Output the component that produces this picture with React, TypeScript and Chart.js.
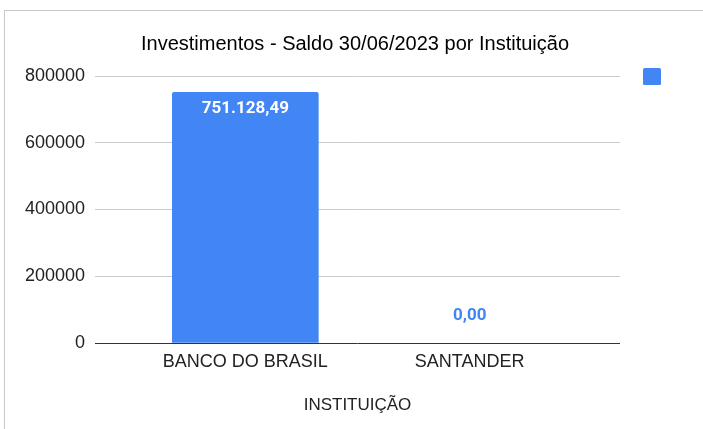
import React, { useEffect, useRef } from "react";
import { Chart, registerables } from "chart.js";

Chart.register(...registerables);

const categories = ["BANCO DO BRASIL", "SANTANDER"];
const values = [751128.49, 0];
const valueLabels = ["751.128,49", "0,00"];
const yTicks = [0, 200000, 400000, 600000, 800000];
const chartTitle = "Investimentos - Saldo 30/06/2023 por Instituição";
const xAxisTitle = "INSTITUIÇÃO";

const BLUE = "#4285F4";
const FONT = "'Liberation Sans', Arial, sans-serif";

const decorPlugin = {
  id: "decor",
  beforeDraw(chart: any) {
    const { ctx, width, height } = chart;
    ctx.save();
    ctx.fillStyle = "#ffffff";
    ctx.fillRect(0, 0, width, height);
    ctx.strokeStyle = "#c8c8c8";
    ctx.lineWidth = 1;
    ctx.strokeRect(4.5, 10.5, width + 20, height + 20);
    ctx.restore();
  },
  afterDraw(chart: any) {
    const { ctx } = chart;
    ctx.save();
    // title
    ctx.fillStyle = "#000000";
    ctx.font = `20px ${FONT}`;
    ctx.textAlign = "center";
    ctx.textBaseline = "middle";
    ctx.fillText(chartTitle, 355, 44);
    // legend square
    ctx.fillStyle = BLUE;
    ctx.beginPath();
    (ctx as any).roundRect(643, 68, 18, 17, 1.5);
    ctx.fill();
    // value labels
    const meta = chart.getDatasetMeta(0);
    ctx.font = `bold 17px Roboto, ${FONT}`;
    ctx.textAlign = "center";
    ctx.textBaseline = "middle";
    meta.data.forEach((bar: any, i: number) => {
      const h = bar.base - bar.y;
      if (h > 40) {
        ctx.fillStyle = "#ffffff";
        ctx.fillText(valueLabels[i], bar.x, bar.y + 16);
      } else {
        ctx.fillStyle = BLUE;
        ctx.fillText(valueLabels[i], bar.x, bar.y - 27);
      }
    });
    ctx.restore();
  },
};

export default function App() {
  const ref = useRef<HTMLCanvasElement | null>(null);

  useEffect(() => {
    if (!ref.current) return;
    const chart = new Chart(ref.current, {
      type: "bar",
      data: {
        datasets: [
          {
            label: "",
            data: categories.map((c, i) => ({ x: i, y: values[i] })),
            backgroundColor: (c: any) => (c.raw && c.raw.y === 0 ? "rgba(0,0,0,0)" : BLUE),
            borderRadius: { topLeft: 2, topRight: 2, bottomLeft: 0, bottomRight: 0 },
            borderSkipped: "bottom",
            barThickness: 146,
          },
        ],
      },
      options: {
        responsive: false,
        animation: false,
        layout: { padding: { top: 76, right: 83, bottom: 0, left: 0 } },
        plugins: {
          legend: { display: false },
          title: { display: false },
          tooltip: { enabled: false },
        },
        scales: {
          x: {
            type: "linear",
            offset: false,
            min: -0.67,
            max: 1.67,
            grid: { display: false, drawTicks: false },
            border: { display: false },
            afterBuildTicks: (scale: any) => {
              scale.ticks = categories.map((_, i) => ({ value: i }));
            },
            afterFit: (scale: any) => {
              scale.height = 86;
            },
            ticks: {
              autoSkip: false,
              maxRotation: 0,
              padding: 8,
              color: "#222222",
              font: { family: FONT, size: 18 },
              callback: (v: any) => categories[v] ?? "",
            },
            title: {
              display: true,
              text: xAxisTitle,
              color: "#222222",
              font: { family: FONT, size: 17 },
              padding: { top: 0, bottom: 13 },
            },
          },
          y: {
            min: 0,
            max: 800000,
            afterBuildTicks: (scale: any) => {
              scale.ticks = yTicks.map((v) => ({ value: v }));
            },
            afterFit: (scale: any) => {
              scale.width = 95;
            },
            grid: {
              drawTicks: false,
              color: (c: any) => (c.tick && c.tick.value === 0 ? "#333333" : "#cccccc"),
              lineWidth: 1,
            },
            border: { display: false },
            ticks: {
              padding: 10,
              color: "#222222",
              font: { family: FONT, size: 18 },
              callback: (v: any) => String(v),
            },
          },
        },
      },
      plugins: [decorPlugin],
    } as any);
    return () => chart.destroy();
  }, []);

  return (
    <div style={{ position: "absolute", left: 0, top: 0, width: 703, height: 429 }}>
      <canvas ref={ref} width={703} height={429} style={{ width: 703, height: 429, display: "block" }} />
    </div>
  );
}
